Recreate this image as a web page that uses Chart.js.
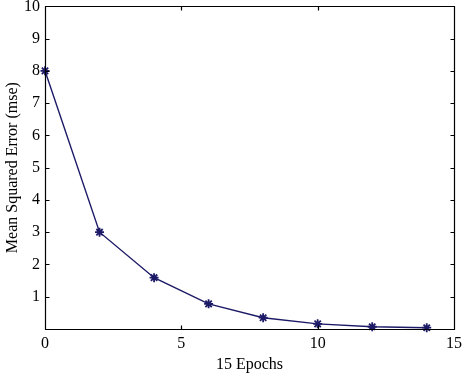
<!DOCTYPE html>
<html>
<head>
<meta charset="utf-8">
<script src="https://cdn.jsdelivr.net/npm/chart.js@4/dist/chart.umd.min.js"></script>
<style>
  html, body { margin: 0; padding: 0; background: #fff; }
  #wrap { width: 462px; height: 374px; position: relative; }
</style>
</head>
<body>
<div id="wrap"><canvas id="c" width="462" height="374"></canvas></div>
<script>
const epochs = [0, 2, 4, 6, 8, 10, 12, 14];
const mseValues = [8.0, 3.0, 1.59, 0.78, 0.35, 0.16, 0.07, 0.04];
const xTicks = [0, 5, 10, 15];
const yTicks = [1, 2, 3, 4, 5, 6, 7, 8, 9, 10];
const xTitle = '15 Epochs';
const yTitle = 'Mean Squared Error (mse)';

const lineColor = '#1c1a66';
const fontFamily = '"Liberation Serif", "DejaVu Serif", serif';

const boxPlugin = {
  id: 'box',
  afterDraw(chart) {
    const ctx = chart.ctx;
    const a = chart.chartArea;
    const xs = chart.scales.x, ys = chart.scales.y;
    ctx.save();
    ctx.strokeStyle = '#000';
    ctx.lineWidth = 1.2;
    ctx.beginPath();
    const L = Math.round(a.left) + 0.5, R = Math.round(a.right) + 0.5;
    const T = Math.round(a.top) + 0.5, B = Math.round(a.bottom) + 0.5;
    ctx.rect(L, T, R - L, B - T);
    const tl = 4;
    yTicks.forEach(v => {
      const y = Math.round(ys.getPixelForValue(v)) + 0.5;
      ctx.moveTo(L, y); ctx.lineTo(L + tl, y);
      ctx.moveTo(R, y); ctx.lineTo(R - tl, y);
    });
    xTicks.forEach(v => {
      const x = Math.round(xs.getPixelForValue(v)) + 0.5;
      ctx.moveTo(x, B); ctx.lineTo(x, B - tl);
      ctx.moveTo(x, T); ctx.lineTo(x, T + tl);
    });
    ctx.stroke();
    ctx.restore();
  }
};

new Chart(document.getElementById('c'), {
  type: 'line',
  data: {
    datasets: [{
      data: epochs.map((e, i) => ({ x: e, y: mseValues[i] })),
      borderColor: lineColor,
      backgroundColor: lineColor,
      borderWidth: 1.4,
      pointStyle: 'star',
      pointRadius: 4.5,
      pointBorderWidth: 1.8,
      pointBorderColor: lineColor,
      tension: 0,
      fill: false,
      clip: false
    }]
  },
  options: {
    responsive: false,
    animation: false,
    devicePixelRatio: 1,
    layout: { padding: { top: 6, right: 8, left: 0, bottom: 0 } },
    plugins: { legend: { display: false }, tooltip: { enabled: false } },
    scales: {
      x: {
        type: 'linear',
        min: 0, max: 15,
        afterBuildTicks: s => { s.ticks = xTicks.map(v => ({ value: v })); },
        afterFit: s => { s.height = 45; s.paddingLeft = 0; s.paddingRight = 0; },
        grid: { display: false, drawTicks: false },
        border: { display: false },
        ticks: {
          color: '#000', padding: 5,
          font: { family: fontFamily, size: 16 },
          maxRotation: 0
        },
        title: {
          display: true, text: xTitle, color: '#000',
          font: { family: fontFamily, size: 16 },
          padding: { top: 2, bottom: 0 }
        }
      },
      y: {
        min: 0, max: 10,
        afterBuildTicks: s => { s.ticks = yTicks.map(v => ({ value: v })); },
        afterFit: s => { s.width = 45; s.paddingTop = 0; s.paddingBottom = 0; },
        grid: { display: false, drawTicks: false },
        border: { display: false },
        ticks: {
          color: '#000', padding: 5,
          font: { family: fontFamily, size: 16 }
        },
        title: {
          display: true, text: yTitle, color: '#000',
          font: { family: fontFamily, size: 16 },
          padding: { top: 3, bottom: 0 }
        }
      }
    }
  },
  plugins: [boxPlugin]
});
</script>
</body>
</html>
